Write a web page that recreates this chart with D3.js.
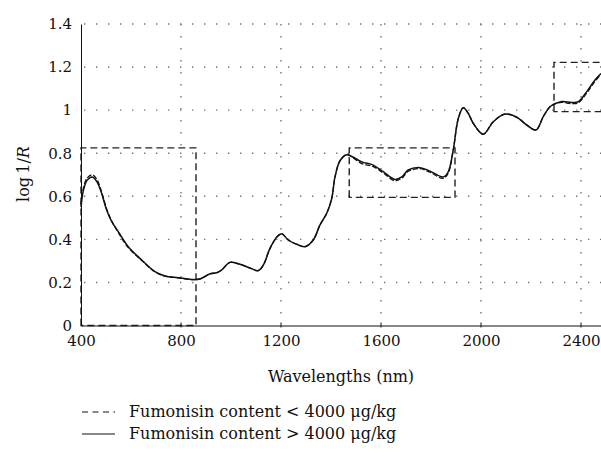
<!DOCTYPE html>
<html><head><meta charset="utf-8">
<script src="https://cdn.jsdelivr.net/npm/d3@7/dist/d3.min.js"></script>
<style>
body{margin:0;background:#fff;}
svg text{font-family:"DejaVu Serif",serif;fill:#111;}
</style></head>
<body><svg id="c" width="601" height="457"></svg>
<script>
const wavelengths = [400,410,425,445,465,483,503,523,549,589,643,696,736,789,843,876,916,943,963,996,1036,1076,1109,1129,1156,1185,1203,1229,1263,1296,1329,1356,1383,1403,1416,1436,1463,1483,1523,1569,1609,1656,1683,1709,1756,1796,1849,1869,1889,1909,1929,1949,1969,2009,2049,2096,2143,2183,2220,2249,2276,2296,2323,2363,2389,2423,2456,2480];
const highFumonisin = [0.55,0.63,0.675,0.69,0.665,0.612,0.535,0.482,0.436,0.366,0.304,0.250,0.230,0.222,0.214,0.216,0.240,0.245,0.258,0.293,0.284,0.267,0.255,0.280,0.358,0.413,0.426,0.397,0.377,0.366,0.397,0.467,0.521,0.590,0.690,0.765,0.793,0.785,0.760,0.745,0.714,0.678,0.690,0.722,0.733,0.717,0.690,0.714,0.815,0.960,1.011,0.985,0.939,0.888,0.946,0.982,0.967,0.931,0.908,0.970,1.016,1.029,1.040,1.036,1.039,1.086,1.140,1.170];
const lowFumonisin = [0.56,0.64,0.685,0.70,0.675,0.618,0.540,0.485,0.432,0.362,0.302,0.249,0.229,0.221,0.213,0.216,0.240,0.245,0.258,0.293,0.284,0.267,0.255,0.280,0.358,0.413,0.427,0.397,0.377,0.366,0.397,0.467,0.521,0.590,0.690,0.765,0.795,0.783,0.752,0.738,0.708,0.672,0.684,0.716,0.728,0.712,0.683,0.708,0.815,0.960,1.012,0.985,0.939,0.888,0.946,0.982,0.967,0.931,0.908,0.970,1.016,1.030,1.036,1.030,1.034,1.080,1.134,1.166];
const xTicks = [400,800,1200,1600,2000,2400];
const yTicks = [0,0.2,0.4,0.6,0.8,1,1.2,1.4];
// dashed highlight boxes [x0,x1,y0,y1]
const boxes = [[400,860,0,0.825],[1473,1896,0.595,0.825],[2292,2520,0.993,1.222]];
const legendLabels = ["Fumonisin content < 4000 \u03BCg/kg","Fumonisin content > 4000 \u03BCg/kg"];

const FONT = "DejaVu Serif";
const svg = d3.select("#c");
const x = d3.scaleLinear().domain([400,2480]).range([81,601]);
const y = d3.scaleLinear().domain([0,1.4]).range([325.5,24]);

const grid = svg.append("g").attr("stroke","#777").attr("stroke-width",1.4).attr("stroke-dasharray","1.4,10.6");
grid.selectAll(".h").data(yTicks.filter(d=>d>0)).join("line")
  .attr("x1",x(400)+3).attr("x2",601).attr("y1",d=>y(d)).attr("y2",d=>y(d));
grid.selectAll(".v").data(xTicks.filter(d=>d>400)).join("line")
  .attr("x1",d=>x(d)).attr("x2",d=>x(d)).attr("y1",y(1.4)).attr("y2",y(0)-3);

// boxes
svg.append("g").selectAll("path").data(boxes).join("path")
  .attr("d",b=>`M${x(b[0])},${y(b[2])}L${x(b[0])},${y(b[3])}L${x(b[1])},${y(b[3])}L${x(b[1])},${y(b[2])}Z`)
  .attr("fill","none").attr("stroke","#222").attr("stroke-width",1.4).attr("stroke-dasharray","7,4");

// axes
const xa = svg.append("g").attr("transform",`translate(0,${y(0)})`)
  .call(d3.axisBottom(x).tickValues(xTicks).tickSize(0).tickPadding(10).tickFormat(d3.format("d")));
xa.attr("font-family",FONT).attr("font-size",15);
xa.select(".domain").attr("stroke","#111");
xa.selectAll(".tick line").remove();
svg.append("g").selectAll("line").data(xTicks.filter(d=>d>400)).join("line")
  .attr("x1",d=>x(d)).attr("x2",d=>x(d)).attr("y1",y(0)-3).attr("y2",y(0)+2).attr("stroke","#111");

const ya = svg.append("g").attr("transform",`translate(${x(400)},0)`)
  .call(d3.axisLeft(y).tickValues(yTicks).tickSize(0).tickPadding(9).tickFormat(d=>String(d)));
ya.attr("font-family",FONT).attr("font-size",15);
ya.select(".domain").attr("stroke","#111");

// lines
const line = d3.line().x((d,i)=>x(wavelengths[i])).y(d=>y(d)).curve(d3.curveCatmullRom.alpha(0.5));
const plot = svg.append("g");
plot.append("path").attr("d",line(lowFumonisin)).attr("fill","none").attr("stroke","#111").attr("stroke-width",1.3).attr("stroke-dasharray","5,2");
plot.append("path").attr("d",line(highFumonisin)).attr("fill","none").attr("stroke","#111").attr("stroke-width",1.5);

// labels
svg.append("text").attr("x",341).attr("y",382).attr("text-anchor","middle").attr("font-size",16).text("Wavelengths (nm)");
const yl = svg.append("text").attr("transform","translate(29,174) rotate(-90)").attr("text-anchor","middle").attr("font-size",16);
yl.append("tspan").text("log\u20091/");
yl.append("tspan").attr("font-style","italic").text("R");

// legend
const lg = svg.append("g");
legendLabels.forEach((t,i)=>{
  const yy = 412 + i*22;
  lg.append("line").attr("x1",82).attr("x2",115).attr("y1",yy).attr("y2",yy).attr("stroke","#111").attr("stroke-width",1.2)
    .attr("stroke-dasharray", i===0 ? "6,4.5" : null);
  lg.append("text").attr("x",129).attr("y",yy+5).attr("font-size",16).text(t);
});
</script></body></html>
